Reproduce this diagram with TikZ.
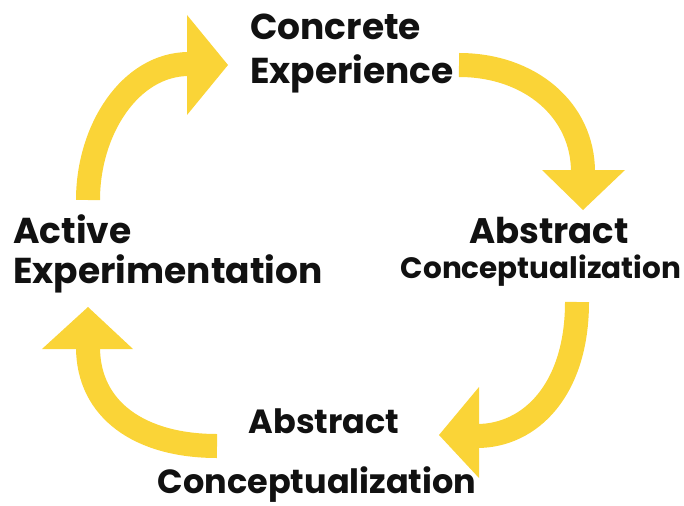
\documentclass[tikz,border=0pt]{standalone}
\usepackage{fontspec}
\setmainfont{Poppins}
\begin{document}
\begin{tikzpicture}[x=1pt,y=-1pt]
\definecolor{cycyellow}{RGB}{250,212,55}
\definecolor{txt}{RGB}{17,17,17}
\tikzset{
  shaft/.style={draw=cycyellow, line width=24pt},
  head/.style={fill=cycyellow},
  lbl/.style={inner sep=0pt, text=txt},
  lblfont/.style 2 args={font=\bfseries\fontsize{#1}{#2}\selectfont}
}
\useasboundingbox (0,0) rectangle (684,505);
% labels
\node[lbl, lblfont={36}{44}, anchor=north west, align=left] (ce) at (250,14) {Concrete\\Experience};
\node[lbl, lblfont={29.5}{35}, anchor=north, align=center] (acr) at (541,217) {\hspace*{16pt}{\fontsize{35.5}{35}\selectfont Abstract}\\Conceptualization};
\node[lbl, lblfont={36}{40}, anchor=north west, align=left] (ae) at (13,214) {Active\\Experimentation};
\node[lbl, lblfont={33.5}{60}, anchor=north, align=center] (acb) at (317,409) {\hspace*{14pt}Abstract\\Conceptualization};
% arrow 1: Active Experimentation -> Concrete Experience
\coordinate (s1) at (88,200); \coordinate (e1) at (189,64);
\draw[shaft] (s1) .. controls (88,130) and (130,64) .. (e1);
\fill[head] (187,15) -- (228,65) -- (187,115) -- cycle;
% arrow 2: Concrete Experience -> Abstract Conceptualization (right)
\coordinate (s2) at (459,65); \coordinate (e2) at (583,172);
\draw[shaft] (s2) .. controls (530,65) and (583,110) .. (e2);
\fill[head] (542,170) -- (583,210) -- (625,170) -- cycle;
% arrow 3: right -> bottom
\coordinate (s3) at (577,302); \coordinate (e3) at (477,436);
\draw[shaft] (s3) .. controls (577,390) and (530,436) .. (e3);
\fill[head] (479,387) -- (439,435) -- (479,478) -- cycle;
% arrow 4: bottom -> Active Experimentation
\coordinate (s4) at (217,446); \coordinate (e4) at (88,347);
\draw[shaft] (s4) .. controls (140,446) and (88,410) .. (e4);
\fill[head] (42,349) -- (88,307) -- (133,349) -- cycle;
\end{tikzpicture}
\end{document}
